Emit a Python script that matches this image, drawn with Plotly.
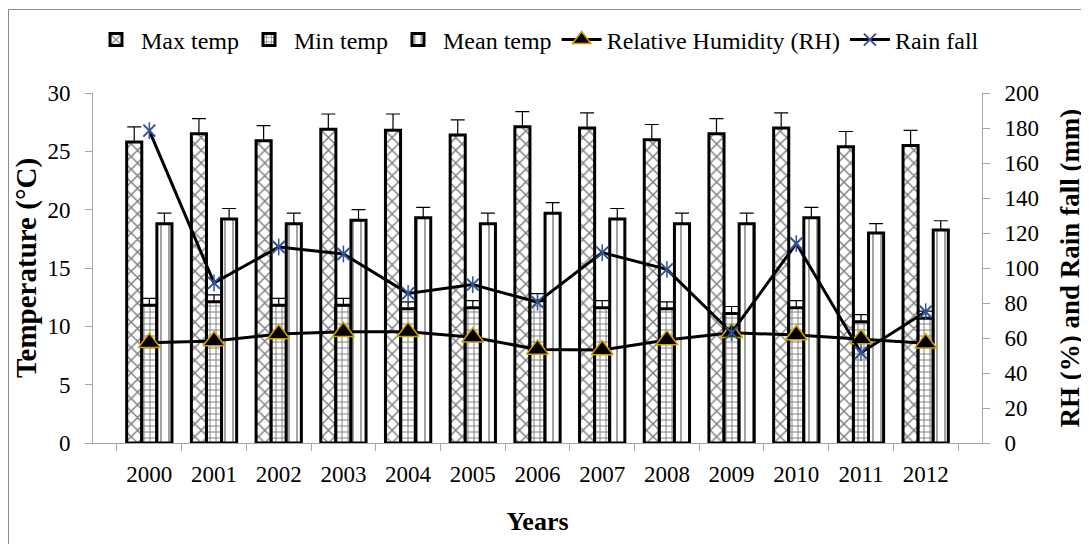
import plotly.graph_objects as go

years = ["2000", "2001", "2002", "2003", "2004", "2005", "2006", "2007", "2008", "2009", "2010", "2011", "2012"]
max_temp = [25.8, 26.5, 25.9, 26.9, 26.8, 26.4, 27.1, 27.0, 26.0, 26.5, 27.0, 25.4, 25.5]
max_err = [1.3, 1.3, 1.3, 1.3, 1.4, 1.3, 1.3, 1.3, 1.3, 1.3, 1.3, 1.3, 1.3]
min_temp = [11.8, 12.1, 11.8, 11.8, 11.5, 11.6, 12.2, 11.6, 11.5, 11.1, 11.6, 10.4, 10.7]
min_err = [0.6, 0.6, 0.6, 0.6, 0.6, 0.6, 0.6, 0.6, 0.6, 0.6, 0.6, 0.6, 0.6]
mean_temp = [18.8, 19.2, 18.8, 19.1, 19.3, 18.8, 19.7, 19.2, 18.8, 18.8, 19.3, 18.0, 18.25]
mean_err = [0.9, 0.9, 0.9, 0.9, 0.9, 0.9, 0.9, 0.9, 0.9, 0.9, 0.9, 0.8, 0.8]
rh = [57.3, 58.3, 62.3, 63.6, 63.6, 60.4, 53.5, 53.1, 58.9, 63.0, 61.7, 59.4, 57.0]
rain = [178.5, 91.5, 112.0, 108.0, 85.5, 90.5, 80.5, 108.8, 99.2, 63.0, 114.0, 51.6, 75.0]

FONT = "Liberation Serif"
OFF = 8  # page body margin
W, H = 1089, 544
PW, PH = 889, 350
L, T = 93 - OFF, 93 - OFF
R, B = W - L - PW, H - T - PH

fig = go.Figure()

def bar(name, vals, errs, shape, size, solidity):
    fig.add_trace(go.Bar(
        x=years, y=vals, name=name,
        marker=dict(color="white", line=dict(color="black", width=3),
                    pattern=dict(shape=shape, fgcolor="black", bgcolor="white",
                                 size=size, solidity=solidity, fillmode="overlay")),
        error_y=dict(type="data", array=errs, visible=True, color="black",
                     thickness=1.2, width=7, symmetric=False, arrayminus=[0]*len(errs)),
        yaxis="y"))

bar("Max temp", max_temp, max_err, "x", 9, 0.3)
bar("Min temp", min_temp, min_err, "+", 6, 0.3)
bar("Mean temp", mean_temp, mean_err, "|", 8, 0.18)

fig.add_trace(go.Scatter(
    x=years, y=rh, name="Relative Humidity (RH)", yaxis="y2", mode="lines+markers",
    line=dict(color="black", width=3),
    marker=dict(symbol="triangle-up", size=19, color="black",
                line=dict(color="#D4A000", width=1.5))))

fig.add_trace(go.Scatter(
    x=years, y=rain, name="Rain fall", yaxis="y2", mode="lines+markers",
    line=dict(color="black", width=3),
    marker=dict(symbol="x-thin-open", size=12, color="#2F5597",
                line=dict(color="#2F5597", width=2))))

fig.add_trace(go.Scatter(
    x=years, y=rain, yaxis="y2", mode="markers", showlegend=False, hoverinfo="skip",
    marker=dict(symbol="line-ns-open", size=12, color="#2F5597",
                line=dict(color="#2F5597", width=1.5))))

axis_common = dict(showline=True, linecolor="#A6A6A6", linewidth=1, ticks="outside",
                   tickcolor="#A6A6A6", ticklen=7, showgrid=False, zeroline=False,
                   automargin=False, ticklabelstandoff=10,
                   tickfont=dict(family=FONT, size=23, color="black"))

fig.update_layout(
    width=W, height=H,
    paper_bgcolor="white", plot_bgcolor="white",
    margin=dict(l=L, r=R, t=T, b=B, autoexpand=False),
    barmode="group", bargap=0.3, bargroupgap=0,
    font=dict(family=FONT, color="black"),
    xaxis=dict(**axis_common, tickson="boundaries",
               title=dict(text="<b>Years</b>", font=dict(family=FONT, size=26, color="black"), standoff=26)),
    yaxis=dict(**axis_common, range=[0, 30], dtick=5,
               title=dict(text="<b>Temperature (°C)</b>", font=dict(family=FONT, size=29, color="black"), standoff=2)),
    yaxis2=dict(**axis_common, range=[0, 200], dtick=20, overlaying="y", side="right",
                title=dict(text="<b>RH (%) and Rain fall (mm)</b>", font=dict(family=FONT, size=27, color="black"), standoff=22)),
    legend=dict(orientation="h", x=0.5, xanchor="center", y=(PH + 93 - 40) / PH, yanchor="middle",
                font=dict(family=FONT, size=24, color="black"), bgcolor="rgba(0,0,0,0)",
                itemwidth=40, tracegroupgap=0),
    showlegend=True,
)

fig.add_shape(type="rect", xref="paper", yref="paper",
              x0=(0.5 - L) / PW, x1=(W + 6 - L) / PW,
              y0=-(B + 6) / PH, y1=(PH + T - 1.5) / PH,
              line=dict(color="#8C8C8C", width=1), fillcolor="rgba(0,0,0,0)", layer="below")

fig.write_html("out.html")
